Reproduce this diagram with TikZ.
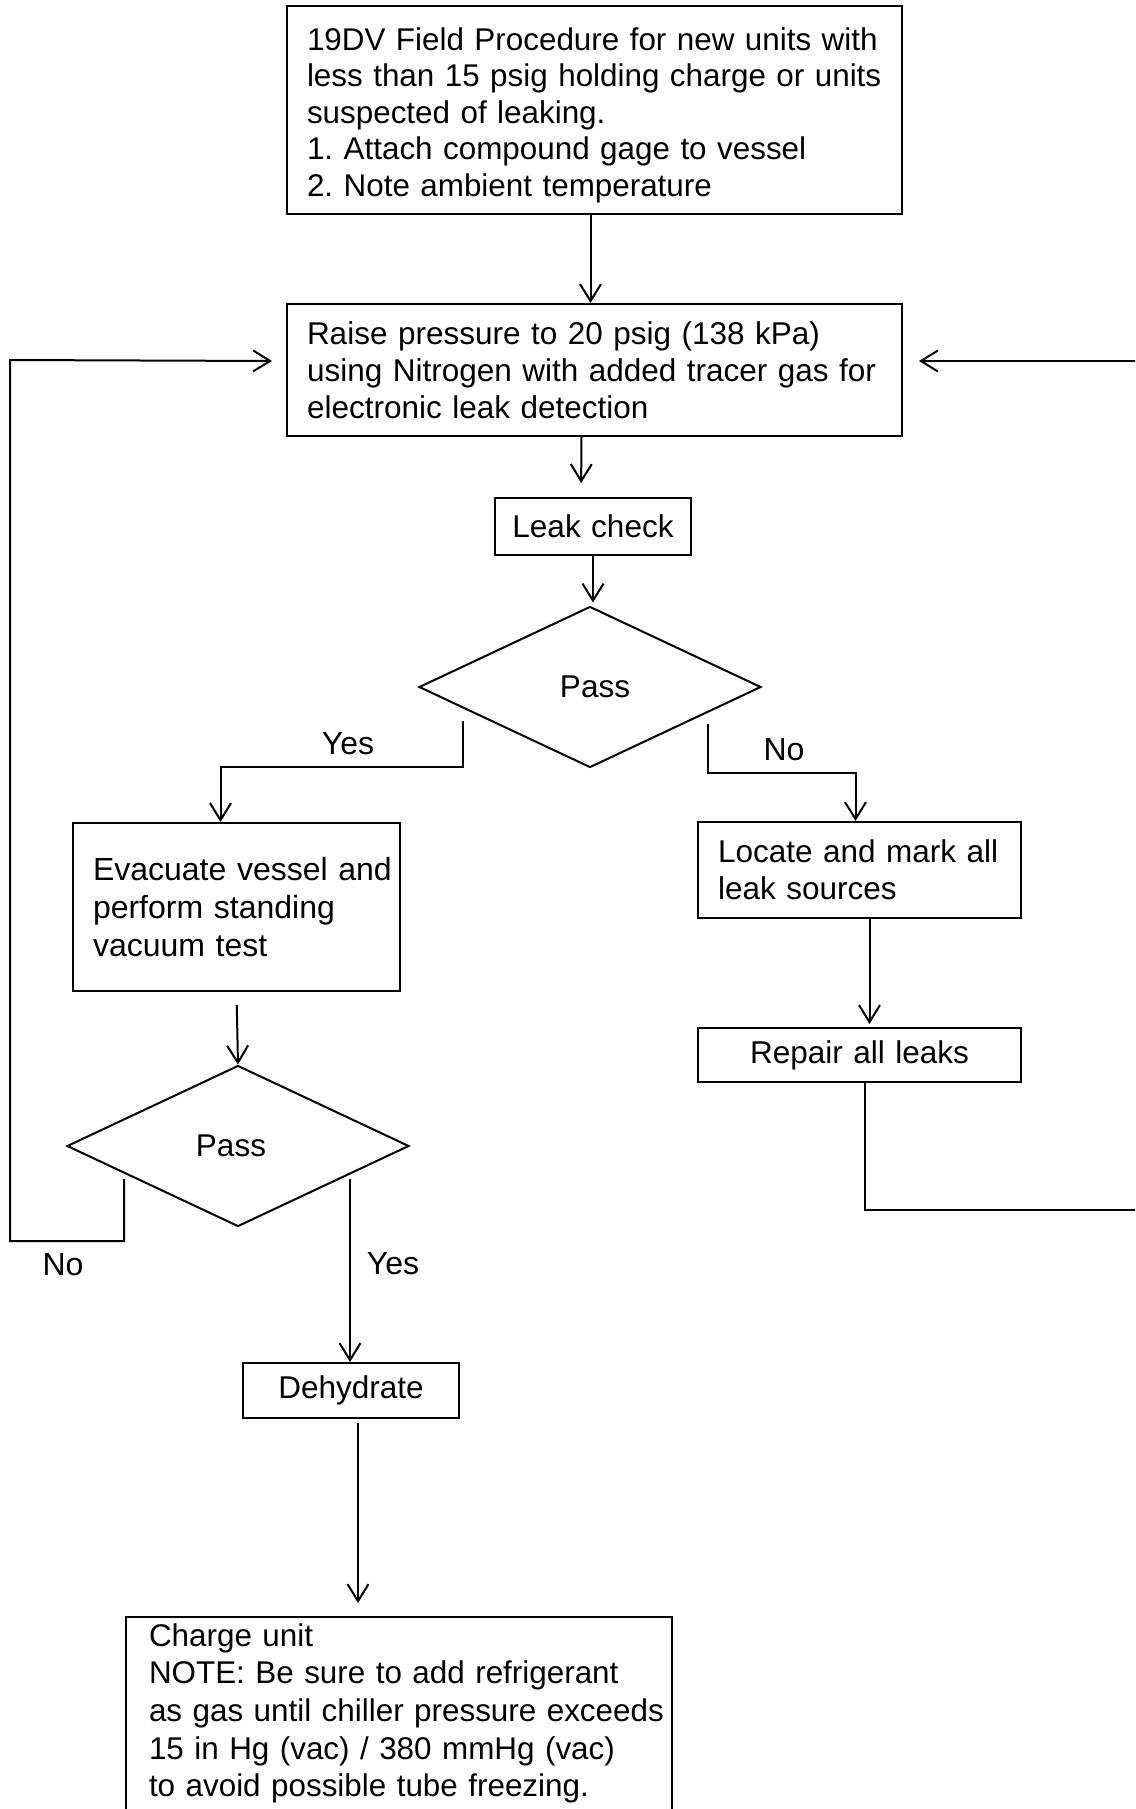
\documentclass[tikz,border=0pt]{standalone}
\usepackage{fontspec}
\setmainfont{Liberation Sans}
\usetikzlibrary{shapes.geometric,arrows.meta}
\frenchspacing
\hyphenpenalty=10000
\exhyphenpenalty=10000
\begin{document}
\begin{tikzpicture}[x=1pt,y=-1pt,
  arr/.style={line width=2pt,-{Straight Barb[length=17pt,width=21pt,line width=2pt]}},
  box/.style={draw,line width=2pt,rectangle,anchor=north west,inner xsep=0pt,inner ysep=0pt,align=left,font=\fontsize{31.5}{37}\selectfont},
  cbox/.style={box,align=center},
  dia/.style={draw,line width=2pt,diamond,minimum width=342pt,minimum height=161pt,inner sep=0pt,font=\fontsize{31.5}{37}\selectfont},
  lbl/.style={font=\fontsize{32}{37}\selectfont,inner sep=0pt}]
\fill[white] (0,0) rectangle (1135,1809);
\useasboundingbox (0,0) rectangle (1135,1809);
\clip (0,0) rectangle (1135,1809);

\node[box,text width=615pt,minimum height=208pt,font=\fontsize{31.4}{36.6}\selectfont] (top) at (286,5)
  {\leftskip=20pt \rule{0pt}{33pt}19DV Field Procedure for new units with\\less than 15 psig holding charge or units\\suspected of leaking.\\1. Attach compound gage to vessel\\2. Note ambient temperature\par};
\node[box,text width=615pt,minimum height=132pt] (b2) at (286,303)
  {\leftskip=20pt Raise pressure to 20 psig (138 kPa)\\using Nitrogen with added tracer gas for\\electronic leak detection\par};
\node[cbox,text width=196pt,minimum height=57pt] (lc) at (494,497) {Leak check};
\node[dia] (d1) at (590,687) {\hspace*{10pt}Pass};
\node[box,text width=327pt,minimum height=168pt,font=\fontsize{32}{38}\selectfont] (ev) at (72,822)
  {\leftskip=20pt Evacuate vessel and\\perform standing\\vacuum test\par};
\node[box,text width=323pt,minimum height=96pt] (lo) at (697,821)
  {\leftskip=20pt Locate and mark all\\leak sources\par};
\node[cbox,text width=323pt,minimum height=54pt] (rp) at (697,1027) {Repair all leaks};
\node[dia] (d2) at (238,1146) {Pass\hspace*{14pt}};
\node[cbox,text width=216pt,minimum height=55pt] (dh) at (242,1362) {Dehydrate};
\node[box,text width=546pt,font=\fontsize{31.4}{37.7}\selectfont] (ch) at (125,1616)
  {\leftskip=23pt \rule{0pt}{29pt}Charge unit\\NOTE: Be sure to add refrigerant\\as gas until chiller pressure exceeds\\15 in Hg (vac) / 380 mmHg (vac)\\to avoid possible tube freezing.\rule[-80pt]{0pt}{0pt}\par};

\node[lbl] (ly1) at (348,744) {Yes};
\node[lbl] (ln1) at (784,750) {No};
\node[lbl] (ln2) at (63,1265) {No};
\node[lbl] (ly2) at (393,1264) {Yes};

\coordinate (y1) at (463,721);
\coordinate (n1) at (708,724);
\coordinate (n2) at (124,1179);
\coordinate (y2) at (350,1179);

\draw[arr] ([xshift=-4pt]top.south) -- ([xshift=-4pt]b2.north);
\draw[arr,shorten >=14pt] ([xshift=-13pt]b2.south) -- ([xshift=-12pt]lc.north);
\draw[arr,shorten >=3pt] (lc.south) -- (lc.south |- d1.north);
\draw[arr] (y1) -- (463,767) -| ([xshift=-16pt]ev.north);
\draw[arr] (n1) -- (708,773) -| ([xshift=-4pt]lo.north);
\draw[arr,shorten <=13pt] (ev.south) -- (d2.north);
\draw[arr,shorten >=3pt] ([xshift=10pt]lo.south) -- ([xshift=10pt]rp.north);
\draw[arr] (n2) -- (124,1241) -- (10,1241) -- (10,360) -- ([xshift=-14pt,yshift=9pt]b2.west);
\draw[arr] ([xshift=5pt]rp.south) |- (1160,1210) |- ([xshift=16pt,yshift=9pt]b2.east);
\draw[arr] (y2) -- (y2 |- dh.north);
\draw[arr,shorten <=4pt,shorten >=13pt] ([xshift=7pt]dh.south) -- ([xshift=-41pt]ch.north);
\end{tikzpicture}
\end{document}
